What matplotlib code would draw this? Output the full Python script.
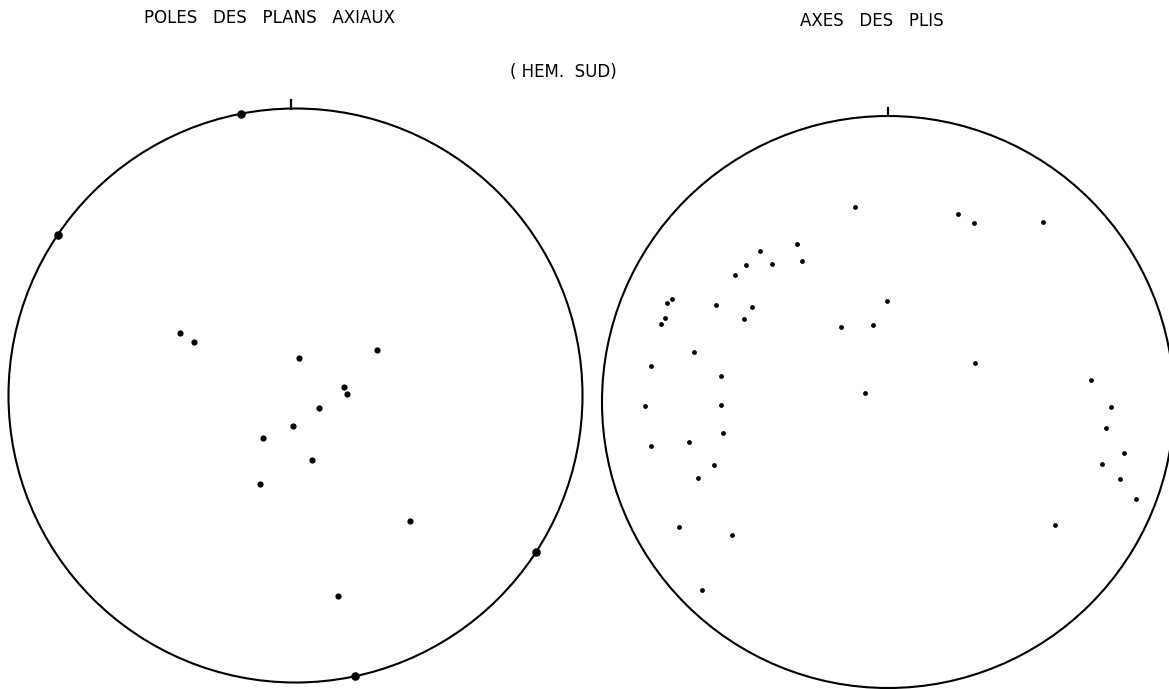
import numpy as np
import matplotlib
matplotlib.use('Agg')
import matplotlib.pyplot as plt
from matplotlib.patches import Circle

# poles of axial planes (equal-area net, unit circle, x = east, y = north)
poles_x = [-0.402, -0.354, 0.012, 0.284, 0.169, 0.179, 0.082, -0.009, -0.113, 0.057, -0.124, 0.399, 0.148]
poles_y = [0.218, 0.186, 0.131, 0.159, 0.030, 0.005, -0.044, -0.106, -0.148, -0.225, -0.308, -0.437, -0.699]
# horizontal poles, plotted on the primitive (trend in degrees)
poles_horiz_trend = [349, 304, 123, 168]

# fold axes
axes_x = [-0.115, -0.318, -0.301, -0.448, -0.406, -0.497, -0.535, -0.755, -0.773, -0.780, -0.794,
          -0.601, -0.476, -0.503, -0.003, -0.052, -0.164, -0.678, -0.829, -0.584, -0.080, -0.850,
          -0.584, 0.245, 0.301, 0.542, 0.304, 0.710, 0.780, 0.762, 0.825, 0.748, 0.811, 0.867,
          0.584, -0.577, -0.829, -0.696, -0.608, -0.664, -0.731, -0.545, -0.650]
axes_y = [0.682, 0.552, 0.493, 0.528, 0.483, 0.479, 0.444, 0.360, 0.346, 0.294, 0.273,
          0.339, 0.332, 0.290, 0.353, 0.269, 0.262, 0.175, 0.126, 0.091, 0.031, -0.014,
          -0.010, 0.657, 0.626, 0.629, 0.136, 0.077, -0.017, -0.091, -0.178, -0.217, -0.269, -0.339,
          -0.430, -0.108, -0.154, -0.140, -0.220, -0.266, -0.437, -0.465, -0.657]

W, H = 1169, 689


def net(fig, cx, cy, r, tick_x=0.0):
    # axes box so that the unit circle lands on (cx, cy) with radius r pixels
    ax = fig.add_axes([(cx - r) / W, (H - cy - r) / H, 2 * r / W, 2 * r / H])
    ax.set_xlim(-1, 1)
    ax.set_ylim(-1, 1)
    ax.axis('off')
    ax.add_patch(Circle((0, 0), 1, fill=False, lw=1.5, ec='black', clip_on=False))
    ax.plot([tick_x, tick_x], [0.999, 1.028], color='black', lw=1.6, clip_on=False)
    return ax


fig = plt.figure(figsize=(W / 100, H / 100), dpi=100)
fig.patch.set_facecolor('white')

ax1 = net(fig, 295.5, 395.5, 287, tick_x=-0.016)
ax1.scatter(poles_x, poles_y, s=20, color='black', lw=0, clip_on=False)
t = np.radians(poles_horiz_trend)
ax1.scatter(np.sin(t), np.cos(t), s=38, color='black', lw=0, clip_on=False)

ax2 = net(fig, 888, 402, 286)
ax2.scatter(axes_x, axes_y, s=12, color='black', lw=0, clip_on=False)

font = dict(family='DejaVu Sans', fontsize=12, color='black', ha='center', va='center')
fig.text(270 / W, 1 - 18 / H, 'POLES   DES   PLANS   AXIAUX', **font)
fig.text(872 / W, 1 - 21 / H, 'AXES   DES   PLIS', **font)
fig.text(563 / W, 1 - 72 / H, '( HEM.  SUD)', **font)

fig.savefig('out.png', dpi=100)
